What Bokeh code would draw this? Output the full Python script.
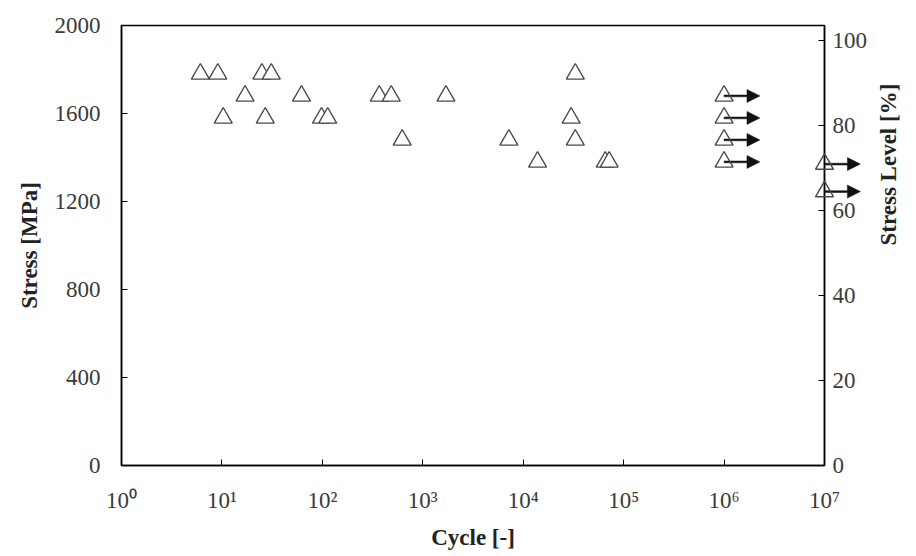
import math
from bokeh.plotting import figure
from bokeh.models import (Range1d, LinearAxis, FixedTicker)
from bokeh.embed import file_html
from bokeh.resources import INLINE

# ---- data ----
cycles = [6.1, 9.1, 25, 31, 33000,
          17, 62, 369, 485, 1700,
          10.3, 27, 98, 113, 30000,
          624, 7200, 33000,
          13900, 65600, 71800]
stress = [1780, 1780, 1780, 1780, 1780,
          1680, 1680, 1680, 1680, 1680,
          1580, 1580, 1580, 1580, 1580,
          1480, 1480, 1480,
          1380, 1380, 1380]

runout_cycles = [1e6, 1e6, 1e6, 1e6, 1e7, 1e7]
runout_stress = [1680, 1580, 1480, 1380, 1370, 1245]

x_ticks = [1, 10, 100, 1000, 10000, 100000, 1000000, 10000000]
x_tick_labels = ["10⁰", "10¹", "10²", "10³", "10⁴", "10⁵", "10⁶", "10⁷"]
y_ticks = [0, 400, 800, 1200, 1600, 2000]
level_ticks = [0, 20, 40, 60, 80, 100]
level_max = 103.5

FONT = "Liberation Serif"
TXT = "#3a3a3a"
W, H = 916, 554
BL, BR, BT, BB = 121, 89, 25, 89

p = figure(width=W, height=H, x_axis_type="log",
           x_range=Range1d(1, 1e7), y_range=Range1d(0, 2000),
           output_backend="svg", toolbar_location=None,
           min_border_left=BL, min_border_right=BR,
           min_border_top=BT, min_border_bottom=BB)
p.extra_y_ranges = {"level": Range1d(0, level_max)}

p.xgrid.visible = False
p.ygrid.visible = False
p.outline_line_color = "black"
p.outline_line_width = 1.5
p.background_fill_color = "white"
p.border_fill_color = "white"

# x axis
xa = p.xaxis[0]
xa.ticker = FixedTicker(ticks=x_ticks, minor_ticks=[])
xa.major_label_overrides = {t: l for t, l in zip(x_ticks, x_tick_labels)}
xa.axis_label = "Cycle [-]"

# left axis
ya = p.yaxis[0]
ya.ticker = FixedTicker(ticks=y_ticks, minor_ticks=[])
ya.axis_label = "Stress [MPa]"

# right axis
ra = LinearAxis(y_range_name="level", axis_label="Stress Level [%]",
                ticker=FixedTicker(ticks=level_ticks, minor_ticks=[]))
p.add_layout(ra, "right")

for ax in [xa, ya, ra]:
    ax.axis_line_color = "black"
    ax.axis_line_width = 1.5
    ax.major_tick_in = 6
    ax.major_tick_out = 0
    ax.major_tick_line_color = "black"
    ax.minor_tick_in = 0
    ax.minor_tick_out = 0
    ax.major_label_text_font = FONT
    ax.major_label_text_font_size = "23px"
    ax.major_label_text_color = TXT
    ax.axis_label_text_font = FONT
    ax.axis_label_text_font_size = "23px"
    ax.axis_label_text_font_style = "bold"
    ax.axis_label_text_color = "#222222"

xa.major_label_standoff = 22
xa.axis_label_standoff = 9
ya.major_label_standoff = 21
ya.axis_label_standoff = 10
ra.major_label_standoff = 8
ra.axis_label_standoff = 18
ra.axis_label_orientation = math.pi / 2

# ---- run-out arrows: one filled polygon each (body + head), drawn over the frame ----
px_per_decade = (W - BL - BR) / 7.0
mpa_per_px = 2000.0 / (H - BT - BB)

def xshift(x, px):
    return x * 10 ** (px / px_per_decade)

ARROW_PX, HEAD_LEN, HEAD_HALF, BODY_HALF = 36, 13, 6.5, 0.9

arrow_xs, arrow_ys = [], []
for x, y in zip(runout_cycles, runout_stress):
    xb = xshift(x, ARROW_PX - HEAD_LEN)
    xt = xshift(x, ARROW_PX)
    t, hw = BODY_HALF * mpa_per_px, HEAD_HALF * mpa_per_px
    arrow_xs.append([x, xb, xb, xt, xb, xb, x])
    arrow_ys.append([y + t, y + t, y + hw, y, y - hw, y - t, y - t])

arr = p.patches(arrow_xs, arrow_ys, fill_color="#111111", line_color="#111111",
                line_width=0.5)
arr.level = "overlay"

# markers
p.scatter(cycles, stress, marker="triangle", size=18,
          fill_color="white", line_color="#4a4a4a", line_width=1.4)
ro = p.scatter(runout_cycles, runout_stress, marker="triangle", size=18,
               fill_alpha=0.0, line_color="#4a4a4a", line_width=1.4)
ro.level = "overlay"

open("out.html", "w").write(file_html(p, INLINE))
